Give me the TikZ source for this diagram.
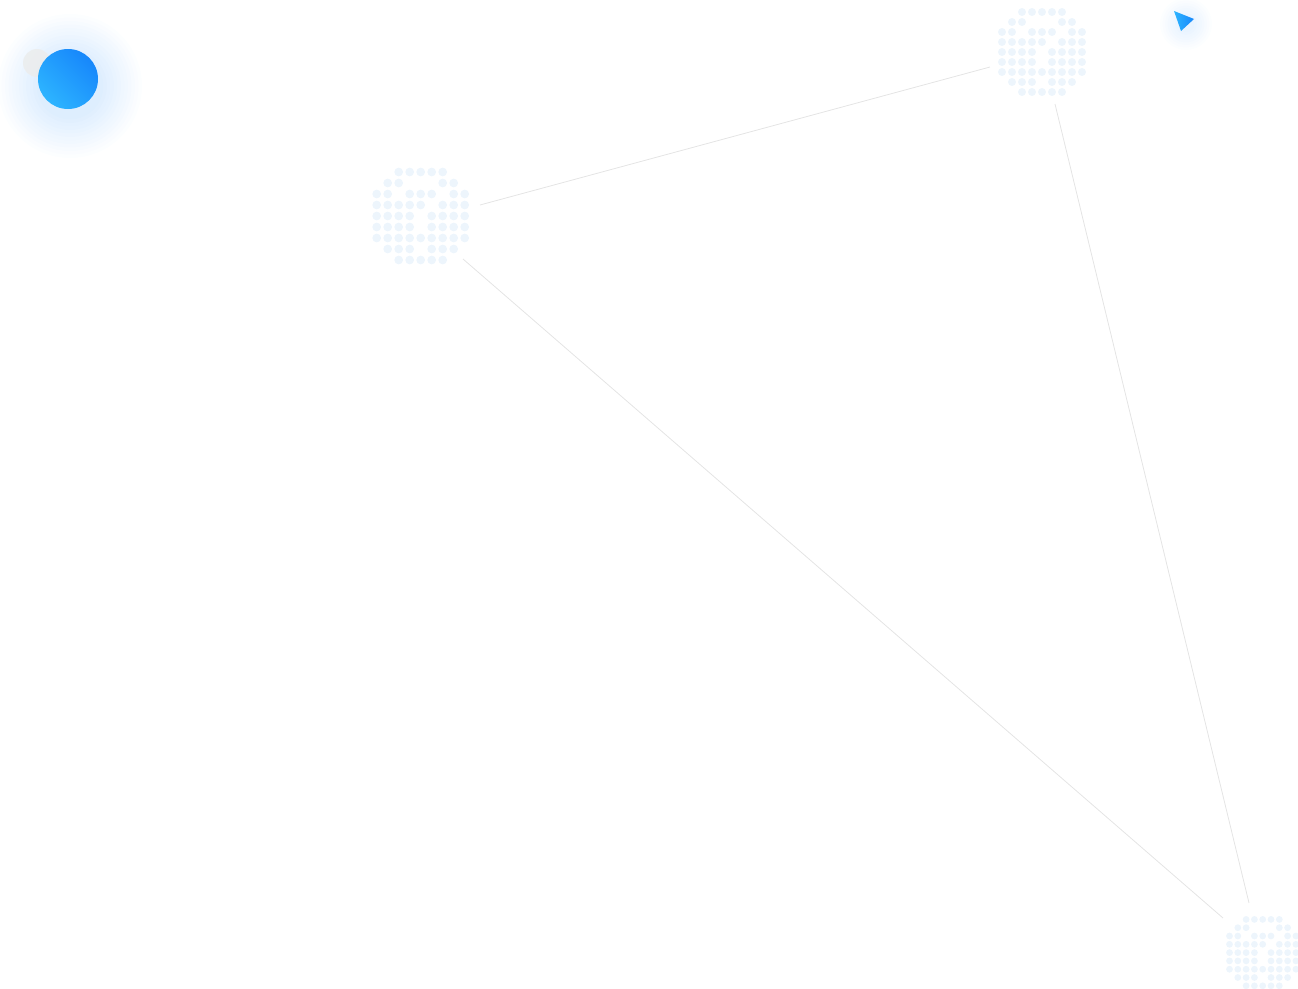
\documentclass[tikz,border=0pt]{standalone}
\usetikzlibrary{shadings}
\definecolor{dotc}{HTML}{EDF5FC}
\definecolor{linec}{HTML}{E4E4E4}
\definecolor{bluea}{HTML}{2DB4FF}
\definecolor{blueb}{HTML}{1787FB}
\tikzset{
  conn/.style={draw=linec, line width=0.8pt},
  pics/dotgrid/.style 2 args={code={
    \foreach \r/\cols in {0/{2,3,4,5,6},1/{1,2,6,7},2/{0,1,3,4,5,7,8},3/{0,1,2,3,4,6,7,8},4/{0,1,2,3,5,6,7,8},5/{0,1,2,3,5,6,7,8},6/{0,1,2,3,4,5,6,7,8},7/{1,2,3,5,6,7},8/{2,3,4,5,6}}{
      \foreach \c in \cols {\fill[dotc] ({(\c-4)*#1},{(\r-4)*#1}) circle (#2);}
    }
  }}
}
\begin{document}
\begin{tikzpicture}[x=1pt,y=-1pt]
\useasboundingbox (0,0) rectangle (1298,988);
% glow around blue circle
\foreach \i in {1,...,12}{
  \fill[blueb,opacity=0.012] (70,86) circle ({30+3.5*\i});
}
\fill[gray!15,opacity=0.8] (37,63) circle (14);
\shade[left color=bluea,right color=blueb,shading angle=135] (68,79) circle (30);
\node[circle,minimum size=60pt,inner sep=0] (ball) at (68,79) {};
% arrow glow and arrow
\foreach \i in {1,...,8}{
  \fill[blueb,opacity=0.01] (1186,24) circle ({6+2.5*\i});
}
\shade[left color=bluea,right color=blueb] (1174,11) -- (1194,19) -- (1181,31) -- cycle;
% dot clusters
\pic at (420.7,216) {dotgrid={11}{4.4}};
\pic at (1042,52) {dotgrid={10}{4}};
\pic at (1262.7,952.6) {dotgrid={8.3}{3.4}};
\node (A) at (420.7,216) {};
\node (B) at (1042,52) {};
\node (C) at (1262.7,952.6) {};
% connector endpoints
\coordinate (ab1) at (480,205); \coordinate (ab2) at (990,67);
\coordinate (ac1) at (463,259); \coordinate (ac2) at (1223,918);
\coordinate (bc1) at (1055,104); \coordinate (bc2) at (1249,903);
\draw[conn] (ab1) -- (ab2);
\draw[conn] (ac1) -- (ac2);
\draw[conn] (bc1) -- (bc2);
\end{tikzpicture}
\end{document}
